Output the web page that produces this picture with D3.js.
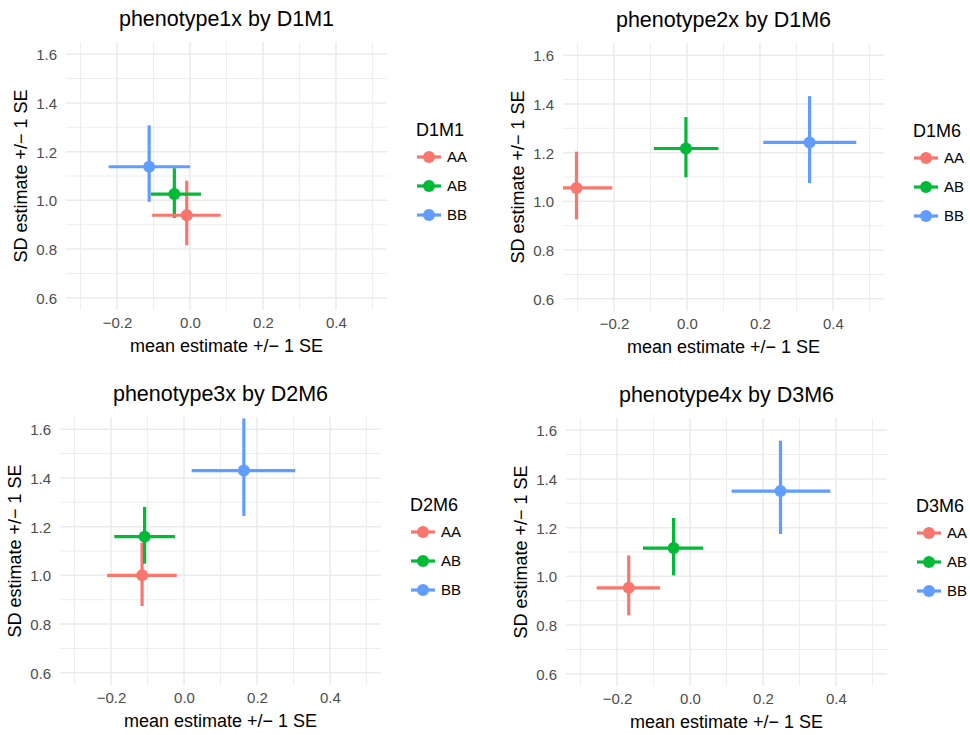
<!DOCTYPE html>
<html>
<head>
<meta charset="utf-8">
<script src="https://cdn.jsdelivr.net/npm/d3@7"></script>
<style>
  html, body { margin: 0; padding: 0; background: #ffffff; }
  svg { display: block; font-family: "Liberation Sans", Arial, Helvetica, sans-serif; }
</style>
</head>
<body>
<svg id="chart" width="970" height="735"></svg>
<script>
// ---------- data ----------
const panelTitles = ["phenotype1x by D1M1", "phenotype2x by D1M6", "phenotype3x by D2M6", "phenotype4x by D3M6"];
const markerNames = ["D1M1", "D1M6", "D2M6", "D3M6"];
const genotypes = ["AA", "AB", "BB"];
const genotypeColors = ["#F8766D", "#00BA38", "#619CFF"];

// per panel, per genotype (AA, AB, BB)
const meanEst  = [[-0.009, -0.043, -0.112], [-0.303, -0.003, 0.336], [-0.115, -0.108, 0.164], [-0.168, -0.045, 0.248]];
const meanLow  = [[-0.104, -0.107, -0.223], [-0.400, -0.091, 0.209], [-0.211, -0.191, 0.021], [-0.256, -0.129, 0.114]];
const meanHigh = [[ 0.084,  0.030,  0.000], [-0.205,  0.086, 0.464], [-0.020, -0.025, 0.305], [-0.082,  0.036, 0.385]];
const sdEst    = [[0.939, 1.026, 1.138], [1.055, 1.217, 1.242], [1.000, 1.159, 1.430], [0.953, 1.116, 1.350]];
const sdLow    = [[0.816, 0.928, 0.994], [0.926, 1.099, 1.075], [0.874, 1.048, 1.244], [0.840, 1.004, 1.174]];
const sdHigh   = [[1.081, 1.132, 1.308], [1.204, 1.346, 1.432], [1.135, 1.281, 1.644], [1.086, 1.240, 1.557]];

const xMajorTicks = [-0.2, 0.0, 0.2, 0.4];
const xMinorTicks = [-0.3, -0.1, 0.1, 0.3, 0.5];
const yMajorTicks = [0.6, 0.8, 1.0, 1.2, 1.4, 1.6];
const yMinorTicks = [0.7, 0.9, 1.1, 1.3, 1.5];
const xDomain = [-0.34, 0.54];
const yDomain = [0.55, 1.65];
const xAxisTitle = "mean estimate +/\u2212 1 SE";
const yAxisTitle = "SD estimate +/\u2212 1 SE";

// ---------- layout ----------
const panelOrigins = [[66, 42], [563, 43], [60, 417], [566, 418]];
const plotW = 321, plotH = 268;

const svg = d3.select("#chart");
const fmt = d => (d < 0 ? "\u2212" : "") + d3.format(".1f")(Math.abs(d));

panelTitles.forEach((title, p) => {
  const [left, top] = panelOrigins[p];
  const x = d3.scaleLinear().domain(xDomain).range([left, left + plotW]);
  const y = d3.scaleLinear().domain(yDomain).range([top + plotH, top]);
  const g = svg.append("g");

  // clip
  const clipId = "clip" + p;
  svg.append("clipPath").attr("id", clipId)
    .append("rect").attr("x", left).attr("y", top).attr("width", plotW).attr("height", plotH);

  // grid minor
  g.selectAll(".xminor").data(xMinorTicks).enter().append("line")
    .attr("x1", d => x(d)).attr("x2", d => x(d)).attr("y1", top).attr("y2", top + plotH)
    .attr("stroke", "#EEEEEE").attr("stroke-width", 1.1);
  g.selectAll(".yminor").data(yMinorTicks).enter().append("line")
    .attr("y1", d => y(d)).attr("y2", d => y(d)).attr("x1", left).attr("x2", left + plotW)
    .attr("stroke", "#EEEEEE").attr("stroke-width", 1.1);
  // grid major
  g.selectAll(".xmajor").data(xMajorTicks).enter().append("line")
    .attr("x1", d => x(d)).attr("x2", d => x(d)).attr("y1", top).attr("y2", top + plotH)
    .attr("stroke", "#EBEBEB").attr("stroke-width", 1.5);
  g.selectAll(".ymajor").data(yMajorTicks).enter().append("line")
    .attr("y1", d => y(d)).attr("y2", d => y(d)).attr("x1", left).attr("x2", left + plotW)
    .attr("stroke", "#EBEBEB").attr("stroke-width", 1.5);

  // axes (labels only, via d3 axis)
  const xAxis = g.append("g").attr("transform", `translate(0,${top + plotH})`)
    .call(d3.axisBottom(x).tickValues(xMajorTicks).tickFormat(fmt).tickSize(0).tickPadding(7));
  const yAxis = g.append("g").attr("transform", `translate(${left},0)`)
    .call(d3.axisLeft(y).tickValues(yMajorTicks).tickFormat(d3.format(".1f")).tickSize(0).tickPadding(9));
  [xAxis, yAxis].forEach(a => {
    a.select(".domain").remove();
    a.selectAll("text").attr("font-size", 15).attr("fill", "#4D4D4D")
      .attr("font-family", "'Liberation Sans', Arial, sans-serif");
  });
  xAxis.selectAll("text").attr("dy", "0.71em");
  yAxis.selectAll("text").attr("dy", "0.36em");

  // titles
  g.append("text").attr("x", left + plotW / 2).attr("y", top - 16)
    .attr("text-anchor", "middle").attr("font-size", 21.5).attr("fill", "#000").text(title);
  g.append("text").attr("x", left + plotW / 2).attr("y", top + 310)
    .attr("text-anchor", "middle").attr("font-size", 18).attr("fill", "#000").text(xAxisTitle);
  g.append("text").attr("transform", `translate(${left - 39},${top + plotH / 2}) rotate(-90)`)
    .attr("text-anchor", "middle").attr("font-size", 18).attr("fill", "#000").text(yAxisTitle);

  // marks
  const rows = genotypes.map((gname, i) => ({
    i, mean: meanEst[p][i], mlo: meanLow[p][i], mhi: meanHigh[p][i],
    sd: sdEst[p][i], slo: sdLow[p][i], shi: sdHigh[p][i]
  }));
  const marks = g.append("g").attr("clip-path", `url(#${clipId})`);
  marks.selectAll(".vbar").data(rows).enter().append("line")
    .attr("x1", d => x(d.mean)).attr("x2", d => x(d.mean))
    .attr("y1", d => y(d.slo)).attr("y2", d => y(d.shi))
    .attr("stroke", d => genotypeColors[d.i]).attr("stroke-width", 3.2);
  marks.selectAll(".hbar").data(rows).enter().append("line")
    .attr("x1", d => x(d.mlo)).attr("x2", d => x(d.mhi))
    .attr("y1", d => y(d.sd)).attr("y2", d => y(d.sd))
    .attr("stroke", d => genotypeColors[d.i]).attr("stroke-width", 3.2);
  marks.selectAll(".pt").data(rows).enter().append("circle")
    .attr("cx", d => x(d.mean)).attr("cy", d => y(d.sd)).attr("r", 6)
    .attr("fill", d => genotypeColors[d.i]);

  // legend
  const lx = left + 350;
  const lg = g.append("g");
  lg.append("text").attr("x", lx).attr("y", top + 94).attr("font-size", 18).attr("fill", "#000")
    .text(markerNames[p]);
  genotypes.forEach((gname, i) => {
    const cy = top + 115 + i * 29;
    lg.append("line").attr("x1", lx + 1).attr("x2", lx + 25).attr("y1", cy).attr("y2", cy)
      .attr("stroke", genotypeColors[i]).attr("stroke-width", 3.2);
    lg.append("circle").attr("cx", lx + 13).attr("cy", cy).attr("r", 6).attr("fill", genotypeColors[i]);
    lg.append("text").attr("x", lx + 31).attr("y", cy).attr("dy", "0.36em")
      .attr("font-size", 15).attr("fill", "#000").text(gname);
  });
});
</script>
</body>
</html>
